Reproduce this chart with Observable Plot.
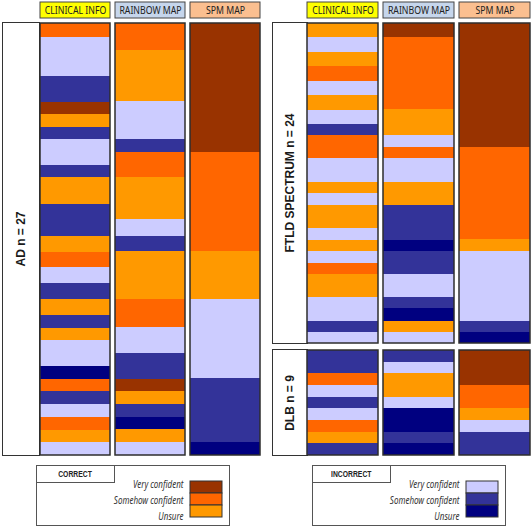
<!DOCTYPE html>
<html><head><meta charset="utf-8">
<script src="https://cdn.jsdelivr.net/npm/d3@7"></script>
<script src="https://cdn.jsdelivr.net/npm/@observablehq/plot@0.6"></script>
<style>
body{margin:0;background:#fff;}
#root{position:relative;width:532px;height:527px;overflow:hidden;font-family:"Liberation Sans",Arial,sans-serif;background:#fff;}
.lbl{position:absolute;border:1px solid #333;background:#fff;box-sizing:border-box;}
.lbl span{position:absolute;left:50%;top:50%;transform:translate(-50%,-50%) rotate(-90deg);white-space:nowrap;font-weight:bold;font-size:12px;color:#1a1a1a;}
.legbox{position:absolute;border:1px solid #555;box-sizing:border-box;background:#fff;}
.tab{position:absolute;left:-1px;top:-1px;border:1px solid #555;box-sizing:border-box;font-weight:bold;font-size:8.5px;color:#222;display:flex;align-items:center;justify-content:center;}
.tab span{display:inline-block;transform:scaleX(0.8);white-space:nowrap;}
</style></head><body><div id="root"></div>
<script>
// ---------- data ----------
const columns = ["CLINICAL INFO", "RAINBOW MAP", "SPM MAP"];
const headerColors = ["#ffff00", "#c6d6ec", "#fbbf90"];
const categories = ["CV", "CS", "CU", "IV", "IS", "IU"]; // Correct/Incorrect x Very/Somehow/Unsure
const categoryColors = ["#993300", "#ff6600", "#ff9900", "#ccccff", "#333399", "#000080"];
const confidenceLevels = ["Very confident", "Somehow confident", "Unsure"];
const legendTitles = ["CORRECT", "INCORRECT"];
const panelNames = ["AD n = 27", "FTLD SPECTRUM n = 24", "DLB n = 9"];

// segment [category, length] from top to bottom
const adClinical = [["CS",14.3],["IV",38.4],["IS",25.6],["CV",12],["CU",13.4],["IS",12],["IV",26],["IS",12],["CU",26.3],["IS",31.7],["CU",16],["CS",15.6],["IV",16],["IS",15.7],["CU",16],["IS",12.7],["CU",12.3],["IV",25.7],["IU",12.6],["CS",12.4],["IS",12.6],["IV",12.7],["CS",13],["CU",12.7],["IV",12.6]];
const adRainbow = [["CS",27],["CU",50.7],["IV",38.3],["IS",12],["CS",25.7],["CU",41.6],["IV",16.4],["IS",15.3],["CU",48],["CS",28.3],["IV",25.4],["IS",25.6],["CV",12.4],["CU",12.6],["IS",12.7],["IU",12.3],["CU",13.4],["IV",12.6]];
const adSpm = [["CV",128],["CS",99],["CU",48],["IV",79],["IS",63],["IU",13.3]];

const ftldClinical = [["CU",13.7],["IV",15],["CU",14],["CS",15],["IV",14.3],["CU",14.7],["IV",14.3],["IS",11],["CS",23.4],["IV",23.3],["CU",11.3],["IV",11.7],["CU",23.3],["IV",11.7],["CU",11.7],["IV",11.3],["CS",11.7],["CU",23],["IV",23.3],["IS",11],["IV",11.3]];
const ftldRainbow = [["CV",13.7],["CS",72.3],["CU",26],["IV",12.4],["CS",11],["IV",23.3],["CU",23],["IS",35],["IU",11],["IS",23.3],["IV",23.4],["IS",11],["IU",12.3],["CU",11],["IV",11.3]];
const ftldSpm = [["CV",123.7],["CS",92],["CU",12],["IV",70],["IS",11],["IU",11.3]];

const dlbClinical = [["IS",2],["CS",1],["IV",1],["IS",1],["IV",1],["CS",1],["CU",1],["IS",1]];
const dlbRainbow = [["IS",1],["IV",1],["CU",2],["IV",1],["IU",2],["IS",1],["IU",1]];
const dlbSpm = [["CV",3],["CS",2],["CU",1],["IV",1],["IS",2]];

// ---------- helpers ----------
const root = document.getElementById("root");
function place(el, left, top){ el.style.position="absolute"; el.style.left=left+"px"; el.style.top=top+"px"; root.appendChild(el); return el; }
function condense(svg, f){
  svg.querySelectorAll("text").forEach(t=>{
    const w = t.getComputedTextLength();
    if (w > 0){ t.setAttribute("textLength", (w*f).toFixed(2)); t.setAttribute("lengthAdjust","spacingAndGlyphs"); }
  });
}
function rows(seqs){ return seqs.flatMap((seq,i)=>seq.map(([cat,len],k)=>({col:columns[i],cat,len,k}))); }
function xScale(pad){ return {domain:columns, axis:null, paddingInner:pad, paddingOuter:0}; }

function panelPlot(seqs, width, height, pad){
  return Plot.plot({
    width, height, margin:2,
    style:{background:"transparent"},
    x:xScale(pad),
    y:{domain:[0,1], reverse:true, axis:null},
    color:{domain:categories, range:categoryColors},
    marks:[
      Plot.barY(rows(seqs), Plot.stackY({x:"col", y:"len", fill:"cat", offset:"normalize", order:null, shapeRendering:"crispEdges"})),
      Plot.barY(columns, {x:d=>d, y1:0, y2:1, fill:"none", stroke:"#2e2e2e", strokeWidth:1.5})
    ]
  });
}
function headerPlot(width, pad){
  return Plot.plot({
    width, height:20, margin:2,
    style:{background:"transparent"},
    x:xScale(pad),
    marks:[
      Plot.cell(columns, {x:d=>d, fill:(d,i)=>headerColors[i], stroke:"#444", strokeWidth:1, inset:0}),
      Plot.text(columns, {x:d=>d, text:d=>d, fontSize:11.5, fill:"#222"})
    ]
  });
}
function labelBox(text, left, top, w, h){
  const d = document.createElement("div"); d.className="lbl";
  d.style.width=w+"px"; d.style.height=h+"px";
  const s = document.createElement("span"); s.textContent=text; d.appendChild(s);
  place(d,left,top);
}
function legend(title, colors, boxLeft){
  const box = document.createElement("div"); box.className="legbox";
  box.style.width="194px"; box.style.height="61px";
  const tab = document.createElement("div"); tab.className="tab";
  tab.style.width="79px"; tab.style.height="18px";
  const ts = document.createElement("span"); ts.textContent = title; tab.appendChild(ts);
  box.appendChild(tab);
  place(box, boxLeft, 465);
  // labels
  const lb = Plot.plot({
    width:175, height:56, marginLeft:5, marginRight:25, marginTop:3, marginBottom:3,
    style:{background:"transparent"},
    x:{axis:null},
    y:{type:"band", domain:confidenceLevels, padding:0, axis:null},
    marks:[ Plot.text(confidenceLevels, {y:d=>d, text:d=>d, frameAnchor:"right", textAnchor:"end", fontSize:10, fontStyle:"italic", fill:"#333"}) ]
  });
  place(lb, boxLeft-3, 472);
  condense(lb, 0.8);
  // swatches
  const sw = Plot.plot({
    width:34, height:42, marginLeft:1, marginRight:1, marginTop:2, marginBottom:2,
    style:{background:"transparent"},
    x:{axis:null},
    y:{domain:confidenceLevels, padding:0, axis:null},
    marks:[ Plot.cell(confidenceLevels, {y:d=>d, fill:(d,i)=>colors[i], stroke:"#333", strokeWidth:1, inset:0}) ]
  });
  place(sw, boxLeft+153, 478);
}

// ---------- layout ----------
const padL = 5/75.33, padR = 5/76;
labelBox(panelNames[0], 2, 22, 38, 434);
labelBox(panelNames[1], 272, 22, 36, 322);
labelBox(panelNames[2], 272, 349, 36, 107);

condense(place(headerPlot(225, padL), 38, 0), 0.76);
condense(place(headerPlot(227, padR), 305, 0), 0.76);

place(panelPlot([adClinical, adRainbow, adSpm], 225, 436, padL), 38, 21);
place(panelPlot([ftldClinical, ftldRainbow, ftldSpm], 227, 324, padR), 305, 21);
place(panelPlot([dlbClinical, dlbRainbow, dlbSpm], 227, 109, padR), 305, 348);

legend(legendTitles[0], categoryColors.slice(0,3), 36);
legend(legendTitles[1], categoryColors.slice(3,6), 312);
</script></body></html>
